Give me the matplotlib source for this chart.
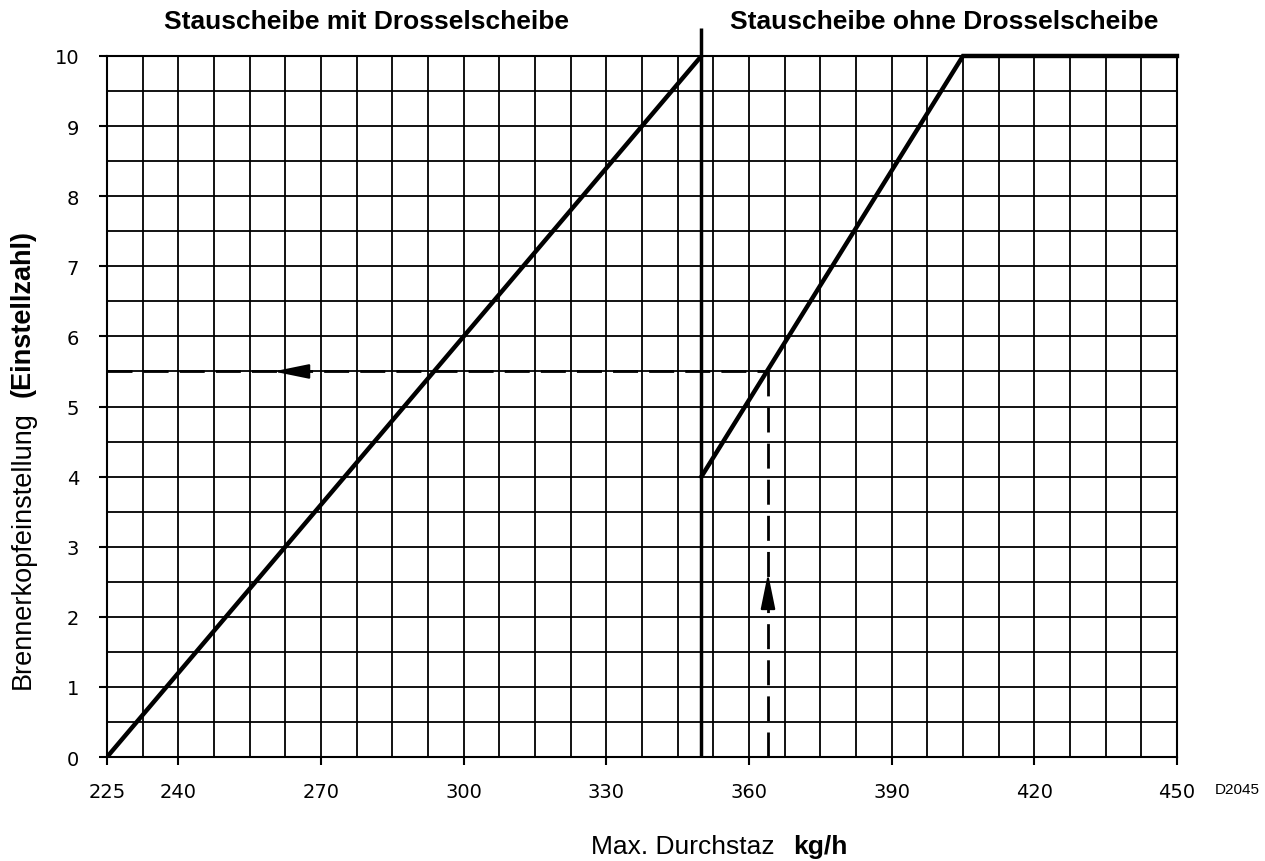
import numpy as np
from matplotlib import pyplot as plt
from matplotlib.ticker import MultipleLocator

# Kennlinien (Einstellzahl ueber max. Durchsatz)
mitX = [225, 350]
mitY = [0, 10]
ohneX = [350, 405, 450]
ohneY = [4, 10, 10]
# Ablesebeispiel
beispielX = 364
beispielY = 5.5
xTicks = [225, 240, 270, 300, 330, 360, 390, 420, 450]
yTicks = [0, 1, 2, 3, 4, 5, 6, 7, 8, 9, 10]
trennX = 350

plt.rcParams['font.family'] = ['Liberation Sans', 'DejaVu Sans']

fig = plt.figure(figsize=(12.65, 8.62), dpi=100)
ax = fig.add_axes([0.0846, 0.1206, 0.8458, 0.8133])

ax.set_xlim(225, 450)
ax.set_ylim(0, 10)
ax.xaxis.set_minor_locator(MultipleLocator(7.5))
ax.yaxis.set_minor_locator(MultipleLocator(0.5))
ax.set_xticks(xTicks)
ax.set_yticks(yTicks)
ax.grid(which='both', color='black', linewidth=1.3)
ax.set_axisbelow(True)
ax.tick_params(which='minor', length=0)
ax.tick_params(which='major', direction='out', length=6, width=1.5, labelsize=14)
ax.tick_params(axis='x', pad=12)
ax.tick_params(axis='y', pad=14)
for lab in ax.get_xticklabels() + ax.get_yticklabels():
    lab.set_family('DejaVu Sans')
for s in ax.spines.values():
    s.set_linewidth(1.5)

# Trennlinie
ax.plot([trennX, trennX], [0, 10.4], color='black', lw=2.5, clip_on=False, solid_capstyle='butt')

# Kennlinien
ax.plot(mitX, mitY, color='black', lw=3.2, solid_capstyle='round')
ax.plot(ohneX, ohneY, color='black', lw=3.2, solid_joinstyle='miter', clip_on=False)

# Ablesebeispiel gestrichelt
ax.plot([225, beispielX], [beispielY, beispielY], color='black', lw=2.0, ls=(0, (9, 4)))
ax.plot([beispielX, beispielX], [0, beispielY], color='black', lw=2.0, ls=(0, (9, 4)))
pfeil = dict(arrowstyle='-|>,head_length=2.2,head_width=0.45', color='black', lw=1.5,
             shrinkA=0, shrinkB=0)
ax.annotate('', xy=(260, beispielY), xytext=(266.5, beispielY), arrowprops=pfeil)
ax.annotate('', xy=(beispielX, 2.62), xytext=(beispielX, 2.15), arrowprops=pfeil)

# Ueberschriften
fig.text(367 / 1265, 1 - 22 / 862, 'Stauscheibe mit Drosselscheibe', ha='center', va='center',
         fontsize=19, fontweight='bold')
fig.text(944 / 1265, 1 - 22 / 862, 'Stauscheibe ohne Drosselscheibe', ha='center', va='center',
         fontsize=19, fontweight='bold')

# Achsenbeschriftungen
fig.text(23 / 1265, 1 - 689 / 862, 'Brennerkopfeinstellung', rotation=90, ha='center', va='bottom', fontsize=19.5)
fig.text(23 / 1265, 1 - 397 / 862, '(Einstellzahl)', rotation=90, ha='center', va='bottom',
         fontsize=19.5, fontweight='bold')
fig.text(775 / 1265, 1 - 847 / 862, 'Max. Durchstaz', ha='right', va='center', fontsize=19)
fig.text(793 / 1265, 1 - 847 / 862, 'kg/h', ha='left', va='center', fontsize=19, fontweight='bold')
fig.text(1215 / 1265, 1 - 790 / 862, 'D2045', ha='left', va='center', fontsize=11)

fig.savefig('out.png', dpi=100)
